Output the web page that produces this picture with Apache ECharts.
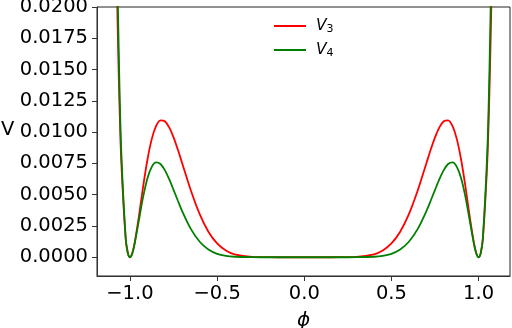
<!DOCTYPE html>
<html>
<head>
<meta charset="utf-8">
<script src="https://cdn.jsdelivr.net/npm/echarts@6/dist/echarts.min.js"></script>
<style>
  html, body { margin: 0; padding: 0; background: #fff; }
  #main { width: 512px; height: 328px; }
</style>
</head>
<body>
<div id="main"></div>
<script>
// phi samples and potentials
var phi = [
  -1.0875, -1.075, -1.0625, -1.05, -1.025, -1.0125, -1.0, -0.9875, -0.975, -0.95,
  -0.925, -0.9, -0.875, -0.85, -0.825, -0.8, -0.775, -0.75, -0.725, -0.7,
  -0.65, -0.6, -0.55, -0.5, -0.45, -0.4, -0.3, -0.2, -0.1, 0,
  0.1, 0.2, 0.3, 0.4, 0.45, 0.5, 0.55, 0.6, 0.65, 0.7,
  0.725, 0.75, 0.775, 0.8, 0.825, 0.85, 0.875, 0.9, 0.925, 0.95,
  0.975, 0.9875, 1.0, 1.0125, 1.025, 1.05, 1.0625, 1.075, 1.0875
];
var v3 = [
  0.032634, 0.021597, 0.013494, 0.007761, 0.001561, 0.000349, 0, 0.000279, 0.000995, 0.003153,
  0.005586, 0.007770, 0.009438, 0.010492, 0.010945, 0.010872, 0.010379, 0.009581, 0.008589, 0.007497,
  0.005314, 0.003440, 0.002037, 0.001099, 0.000535, 0.000231, 0.000027, 0.000001, 0, 0,
  0, 0.000001, 0.000027, 0.000231, 0.000535, 0.001099, 0.002037, 0.003440, 0.005314, 0.007497,
  0.008589, 0.009581, 0.010379, 0.010872, 0.010945, 0.010492, 0.009438, 0.007770, 0.005586, 0.003153,
  0.000995, 0.000279, 0, 0.000349, 0.001561, 0.007761, 0.013494, 0.021597, 0.032634
];
var v4 = [
  0.038595, 0.024957, 0.015234, 0.008557, 0.001640, 0.000358, 0, 0.000272, 0.000946, 0.002846,
  0.004779, 0.006294, 0.007226, 0.007580, 0.007449, 0.006958, 0.006234, 0.005389, 0.004514, 0.003674,
  0.002245, 0.001238, 0.000616, 0.000275, 0.000108, 0.000037, 0.000002, 0, 0, 0,
  0, 0, 0.000002, 0.000037, 0.000108, 0.000275, 0.000616, 0.001238, 0.002245, 0.003674,
  0.004514, 0.005389, 0.006234, 0.006958, 0.007449, 0.007580, 0.007226, 0.006294, 0.004779, 0.002846,
  0.000946, 0.000272, 0, 0.000358, 0.001640, 0.008557, 0.015234, 0.024957, 0.038595
];
var xTicks = [-1.0, -0.5, 0.0, 0.5, 1.0];
var yTicks = [0, 0.0025, 0.005, 0.0075, 0.01, 0.0125, 0.015, 0.0175, 0.02];

var font = 'DejaVu Sans';

function pairs(ys) {
  return phi.map(function (x, i) {
    return [x, ys[i]];
  });
}

var myChart = echarts.init(document.getElementById('main'));
var option = {
  animation: false,
  grid: {
    left: 97,
    right: 2,
    top: 7,
    bottom: 52,
    containLabel: false,
    outerBoundsMode: 'none',
    show: true,
    borderColor: '#222',
    borderWidth: 1
  },
  legend: {
    orient: 'vertical',
    left: 268,
    top: 13,
    itemWidth: 32,
    itemHeight: 16,
    itemGap: 7,
    data: ['V3', 'V4'],
    itemStyle: { opacity: 0 },
    formatter: function (name) {
      return '{i|' + name[0] + '}{s|' + name.slice(1) + '}';
    },
    textStyle: {
      rich: {
        i: { fontFamily: font, fontStyle: 'italic', fontSize: 15.5, lineHeight: 16, verticalAlign: 'top', padding: [0, 0, 0, 5], color: '#000' },
        s: { fontFamily: font, fontSize: 11, lineHeight: 11, verticalAlign: 'top', padding: [6, 0, 0, 0], color: '#000' }
      }
    }
  },
  xAxis: {
    type: 'value',
    min: -1.189,
    max: 1.18,
    name: 'ϕ',
    nameLocation: 'middle',
    nameGap: 35,
    nameTextStyle: { fontFamily: font, fontStyle: 'italic', fontSize: 20, color: '#000' },
    splitLine: { show: false },
    axisLine: { onZero: false, lineStyle: { color: '#333', width: 1 } },
    axisTick: { show: true, length: 5, customValues: xTicks, lineStyle: { color: '#333' } },
    axisLabel: {
      customValues: xTicks,
      fontFamily: font,
      fontSize: 19.5,
      color: '#000',
      margin: 8,
      formatter: function (v) {
        return (v < 0 ? '\u2212' : '') + Math.abs(v).toFixed(1);
      }
    }
  },
  yAxis: {
    type: 'value',
    min: -0.0015,
    max: 0.02,
    splitLine: { show: false },
    axisLine: { show: true, onZero: false, lineStyle: { color: '#333', width: 1 } },
    axisTick: { show: true, length: 5, customValues: yTicks, lineStyle: { color: '#333' } },
    axisLabel: {
      customValues: yTicks,
      fontFamily: font,
      fontSize: 19.5,
      color: '#000',
      margin: 9,
      formatter: function (v) {
        return v.toFixed(4);
      }
    }
  },
  graphic: [{
    type: 'text',
    left: 1,
    top: 120,
    style: { text: 'V', fontFamily: font, fontSize: 19.5, fill: '#000' }
  }],
  series: [{
    name: 'V3',
    type: 'line',
    data: pairs(v3),
    symbol: 'none',
    smooth: 0.3,
    clip: true,
    lineStyle: { color: '#ff0000', width: 1.8 },
    itemStyle: { color: '#ff0000' }
  }, {
    name: 'V4',
    type: 'line',
    data: pairs(v4),
    symbol: 'none',
    smooth: 0.3,
    clip: true,
    lineStyle: { color: '#008000', width: 1.8 },
    itemStyle: { color: '#008000' }
  }]
};
myChart.setOption(option);
</script>
</body>
</html>
